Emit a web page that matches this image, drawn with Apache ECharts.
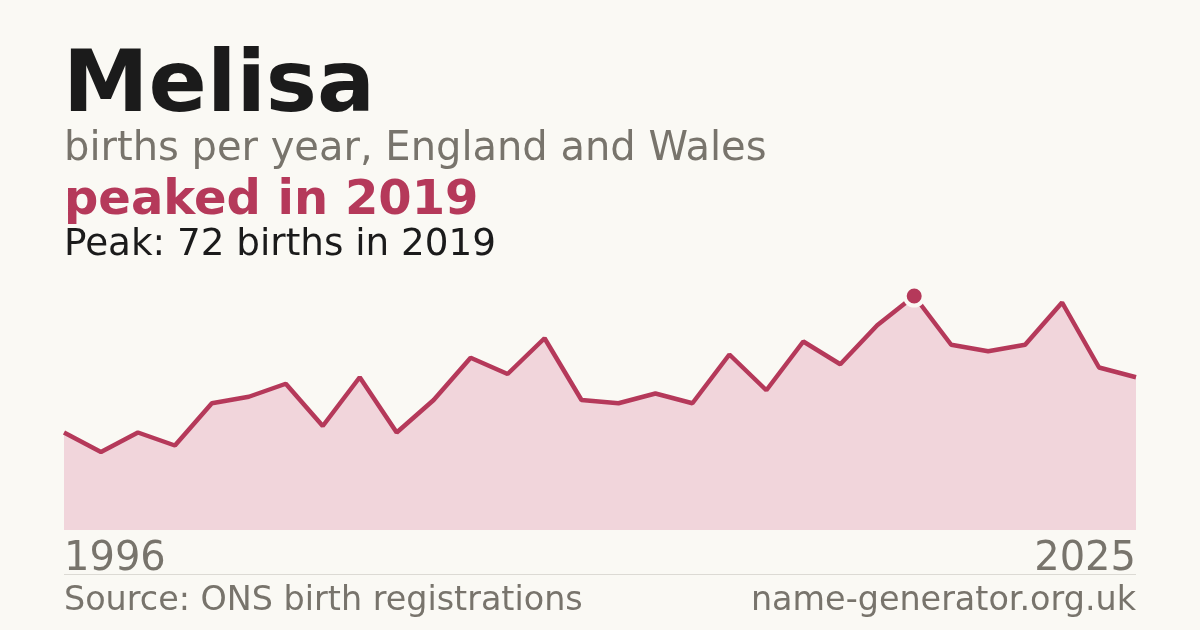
<!DOCTYPE html>
<html><head><meta charset="utf-8">
<script src="https://cdn.jsdelivr.net/npm/echarts@6/dist/echarts.min.js"></script>
<style>html,body{margin:0;padding:0;background:#faf9f4;}#c{width:1200px;height:630px;}</style>
</head><body><div id="c"></div>
<script>
const years = ["1996","1997","1998","1999","2000","2001","2002","2003","2004","2005","2006","2007","2008","2009","2010","2011","2012","2013","2014","2015","2016","2017","2018","2019","2020","2021","2022","2023","2024","2025"];
const births = [30,24,30,26,39,41,45,32,47,30,40,53,48,59,40,39,42,39,54,43,58,51,63,72,57,55,57,70,50,47];
const peakYear = "2019";
const peakValue = 72;
const titleText = "Melisa";
const subtitleText = "births per year, England and Wales";
const headlineText = "peaked in 2019";
const peakText = "Peak: 72 births in 2019";
const sourceText = "Source: ONS birth registrations";
const siteText = "name-generator.org.uk";

const FONT = "DejaVu Sans";
const GREY = "#78746c";
const ACCENT = "#b5395a";
const BG = "#faf9f4";

function txt(x, baseline, size, bold, text, fill, align) {
  return {type:'text', x:x, y:baseline - 0.297*size,
    style:{text:text, font:(bold?'bold ':'')+size+"px '"+FONT+"'", fill:fill, verticalAlign:'middle', align:align||'left'}};
}

const chart = echarts.init(document.getElementById('c'), null, {renderer:'canvas'});
chart.setOption({
  backgroundColor: BG,
  animation: false,
  grid: {left: 64, right: 64, top: 296, bottom: 100},
  xAxis: {type:'category', data: years, boundaryGap:false, show:false},
  yAxis: {type:'value', min:0, max:72, show:false},
  series: [
    {type:'line', data: births, symbol:'none', lineStyle:{color:ACCENT, width:4.5},
     areaStyle:{color:'#f1d5db', opacity:1}, z:2},
    {type:'scatter', data: [[peakYear, peakValue]], symbol:'circle', symbolSize:19,
     itemStyle:{color:ACCENT, borderColor:BG, borderWidth:4, opacity:1}, z:5}
  ],
  graphic: [
    txt(63, 114, 86, true, titleText, '#1b1b1b'),
    txt(64, 161, 40, false, subtitleText, GREY),
    txt(64, 216, 48, true, headlineText, ACCENT),
    txt(64, 256, 37.3, false, peakText, '#1b1b1b'),
    txt(64, 571, 40, false, years[0], GREY),
    txt(1136, 571, 40, false, years[years.length-1], GREY, 'right'),
    {type:'line', shape:{x1:64, y1:574.5, x2:1136, y2:574.5}, style:{stroke:'#dcdad4', lineWidth:1}},
    txt(64, 611, 33.4, false, sourceText, GREY),
    txt(1136, 611, 33.4, false, siteText, GREY, 'right')
  ]
});
</script></body></html>
